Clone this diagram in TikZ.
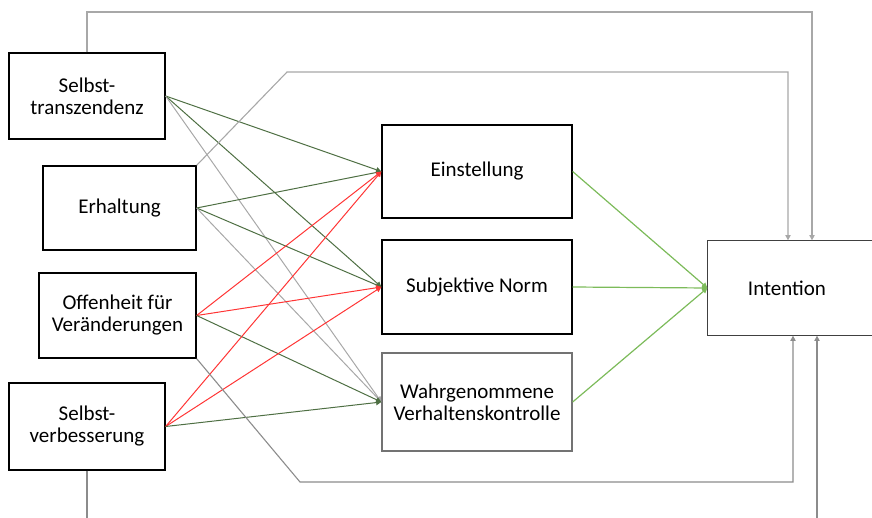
\documentclass[tikz,border=0pt]{standalone}
\usepackage{fontspec}
\setmainfont{Carlito}
\usetikzlibrary{arrows.meta}
\definecolor{darkgreen}{HTML}{4E6F43}
\definecolor{lightgreen}{HTML}{7CBB5A}
\definecolor{linered}{HTML}{FF3535}
\definecolor{linegray}{HTML}{A8A8A8}
\definecolor{arrowgray}{HTML}{8C8C8C}
\tikzset{
  box/.style={draw, line width=0.65pt, align=center, inner sep=2pt,
    font=\fontsize{10.5}{11}\selectfont},
  tip/.style={-{Triangle[length=2.6pt,width=2.6pt]}},
  dg/.style={tip, draw=darkgreen, line width=0.5pt},
  rd/.style={tip, draw=linered, line width=0.5pt},
  gy/.style={tip, draw=linegray, line width=0.5pt},
  lg/.style={tip, draw=lightgreen, line width=0.6pt},
  loop/.style={draw=linegray, line width=0.55pt},
  looptip/.style={loop, tip}
}
\begin{document}
\begin{tikzpicture}[x=0.5pt,y=-0.5pt]
  \useasboundingbox (0,0) rectangle (872,518);
  % Werte
  \node[box, minimum width=78pt, minimum height=43pt] (st) at (87,96) {Selbst-\\transzendenz};
  \node[box, minimum width=76.5pt, minimum height=42pt] (er) at (119.5,208) {Erhaltung};
  \node[box, minimum width=78.5pt, minimum height=42.5pt] (of) at (117.5,315.5) {Offenheit für\\Veränderungen};
  \node[box, minimum width=78pt, minimum height=43.5pt] (sv) at (87,426.5) {Selbst-\\verbesserung};
  % Einstellungen
  \node[box, minimum width=95pt, minimum height=46.5pt] (ein) at (477,171.5) {Einstellung};
  \node[box, minimum width=95pt, minimum height=47pt] (sn) at (477,287) {Subjektive Norm};
  \node[box, draw=black!55, minimum width=95pt, minimum height=49pt] (wv) at (477,402) {Wahrgenommene\\Verhaltenskontrolle};
  \node[box, draw=none, minimum width=79pt, minimum height=47pt] (int) at (787,288) {Intention};
  \draw[line width=0.65pt, black!75] ([shift={(20,0)}]int.north east) -- (int.north west)
    -- (int.south west) -- ([shift={(20,0)}]int.south east);
  % Pfade
  \foreach \a/\b/\c in {st/ein/dg, st/sn/dg, st/wv/gy,
                        er/ein/dg, er/sn/dg, er/wv/gy,
                        of/ein/rd, of/sn/rd, of/wv/dg,
                        sv/ein/rd, sv/sn/rd, sv/wv/dg}
    \draw[\c] (\a.east) -- (\b.west);
  \foreach \b in {ein,sn,wv}
    \draw[lg] (\b.east) -- (int.west);
  % direkte Pfade
  \draw[looptip] (st.north) -- (87,12) -| ([shift={(25,0)}]int.north);
  \draw[looptip] (er.north east) -- (287,72) -| ([shift={(1,0)}]int.north);
  \draw[looptip, arrowgray] (of.south east) -- (300,482) -| ([shift={(6,0)}]int.south);
  \coordinate (svout) at (87,518);
  \coordinate (intin) at (817,518);
  \draw[loop, arrowgray] (sv.south) -- (svout);
  \draw[looptip, arrowgray] (intin) -- ([shift={(30,0)}]int.south);
\end{tikzpicture}
\end{document}
